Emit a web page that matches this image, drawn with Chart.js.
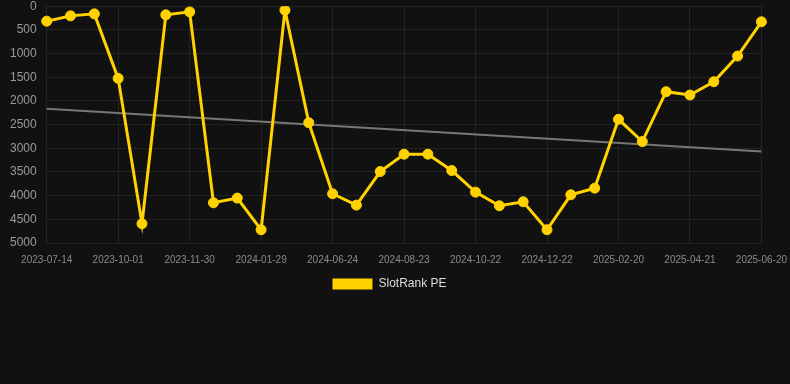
<!DOCTYPE html>
<html>
<head>
<meta charset="utf-8">
<script src="https://cdn.jsdelivr.net/npm/chart.js@4"></script>
<style>
  html, body { margin: 0; padding: 0; background: #111111; overflow: hidden; }
  #wrap { position: relative; width: 798px; height: 311px; margin-top: -11px; }
</style>
</head>
<body>
<div id="wrap"><canvas id="rankChart"></canvas></div>
<script>
const dates = [
  '2023-07-14', '2023-08-09', '2023-09-05', '2023-10-01', '2023-10-21', '2023-11-10',
  '2023-11-30', '2023-12-20', '2024-01-09', '2024-01-29', '2024-03-20', '2024-05-05',
  '2024-06-24', '2024-07-14', '2024-08-03', '2024-08-23', '2024-09-12', '2024-10-02',
  '2024-10-22', '2024-11-11', '2024-12-02', '2024-12-22', '2025-01-11', '2025-01-31',
  '2025-02-20', '2025-03-12', '2025-04-01', '2025-04-21', '2025-05-11', '2025-05-31',
  '2025-06-20'
];

const rankPE = [
  316, 204, 162, 1524, 4593, 183, 120, 4151, 4052, 4720, 84, 2459,
  3961, 4200, 3491, 3125, 3125, 3470, 3926, 4214, 4130, 4720, 3982, 3842,
  2388, 2859, 1805, 1875, 1595, 1053, 330
];

// trend line end points
const trendStart = 2164;
const trendEnd = 3070;

const yTicks = [0, 500, 1000, 1500, 2000, 2500, 3000, 3500, 4000, 4500, 5000];

const ctx = document.getElementById('rankChart').getContext('2d');

const rankChart = new Chart(ctx, {
  type: 'line',
  data: {
    labels: dates,
    datasets: [{
      label: 'SlotRank PE',
      data: rankPE,
      borderColor: '#ffd200',
      backgroundColor: '#ffd200',
      borderWidth: 3,
      pointRadius: 5,
      pointBorderWidth: 1,
      pointBackgroundColor: '#ffd200',
      pointBorderColor: '#ffd200',
      tension: 0,
      fill: false
    }, {
      label: 'Trend',
      data: [
        { x: dates[0], y: trendStart },
        { x: dates[dates.length - 1], y: trendEnd }
      ],
      borderColor: '#777777',
      borderWidth: 2,
      pointRadius: 0,
      fill: false
    }]
  },
  options: {
    responsive: true,
    maintainAspectRatio: false,
    animation: false,
    layout: { autoPadding: false, padding: { left: 0, right: 19, top: 0, bottom: 0 } },
    plugins: {
      legend: {
        position: 'bottom',
        labels: {
          color: '#dddddd',
          padding: 1,
          font: { family: 'Liberation Sans, Arial, sans-serif', size: 12 },
          boxWidth: 40,
          boxHeight: 11,
          generateLabels: chart => Chart.defaults.plugins.legend.labels.generateLabels(chart)
            .filter(item => item.text !== 'Trend')
            .map(item => Object.assign(item, { lineWidth: 0 }))
        }
      },
      tooltip: { enabled: false }
    },
    scales: {
      x: {
        grid: { color: '#232323', drawTicks: false },
        border: { color: '#232323' },
        // only every third date gets a tick and a grid line
        afterBuildTicks: axis => { axis.ticks = axis.ticks.filter((t, i) => i % 3 === 0); },
        ticks: {
          autoSkip: false,
          maxRotation: 0,
          padding: 11,
          color: '#8a8a8a',
          font: { family: 'Liberation Sans, Arial, sans-serif', size: 10 },
          callback: function(value) { return this.getLabelForValue(value); }
        }
      },
      y: {
        reverse: true,
        min: 0,
        max: 5000,
        grid: { color: '#232323', drawTicks: false },
        border: { color: '#232323' },
        afterBuildTicks: axis => { axis.ticks = yTicks.map(v => ({ value: v })); },
        ticks: {
          padding: 10,
          color: '#9a9a9a',
          font: { family: 'Liberation Sans, Arial, sans-serif', size: 12 },
          callback: value => String(value)
        }
      }
    }
  }
});
</script>
</body>
</html>
